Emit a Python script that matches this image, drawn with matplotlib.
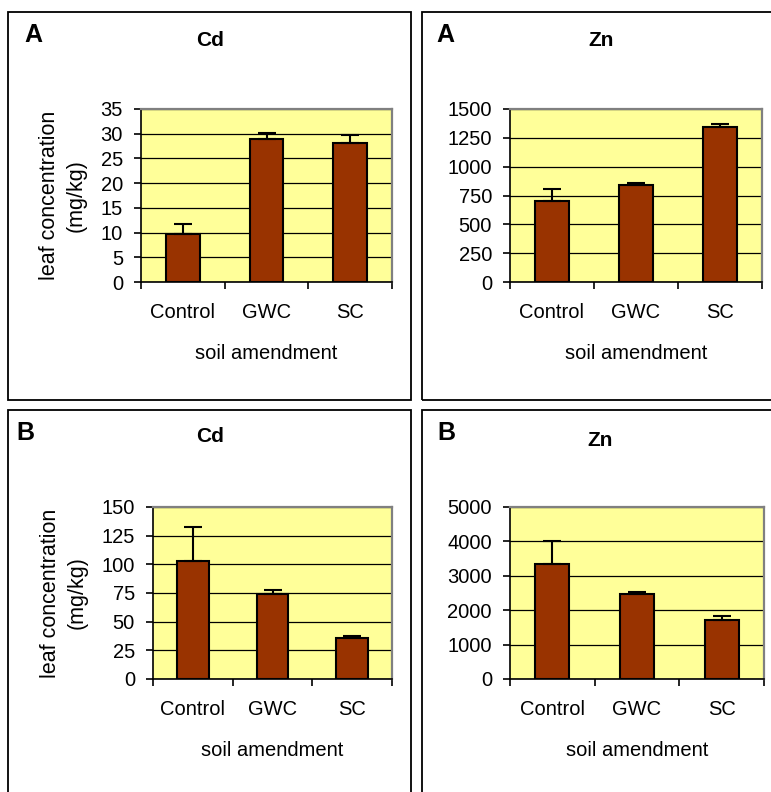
import matplotlib
matplotlib.use('Agg')
import matplotlib.pyplot as plt
from matplotlib.patches import Rectangle

plt.rcParams.update({'font.family': 'Liberation Sans', 'font.size': 14.5})

# ── data ──
categories = ['Control', 'GWC', 'SC']

cd_a_mean = [9.7, 28.9, 28.1]
cd_a_err = [2.0, 1.3, 1.6]
zn_a_mean = [705, 844, 1341]
zn_a_err = [100, 17, 32]
cd_b_mean = [103, 74, 36]
cd_b_err = [29.5, 3.3, 1.8]
zn_b_mean = [3330, 2470, 1715]
zn_b_err = [680, 50, 115]

cd_a_ticks = [0, 5, 10, 15, 20, 25, 30, 35]
zn_a_ticks = [0, 250, 500, 750, 1000, 1250, 1500]
cd_b_ticks = [0, 25, 50, 75, 100, 125, 150]
zn_b_ticks = [0, 1000, 2000, 3000, 4000, 5000]

BAR, PLOTBG, BORDER = '#993300', '#ffff99', '#808080'
W, H = 771, 792

fig = plt.figure(figsize=(W / 100, H / 100), dpi=100)


def rect(x0, y0, x1, y1):
    return [x0 / W, 1 - y1 / H, (x1 - x0) / W, (y1 - y0) / H]


def frame(x0, y0, x1, y1):
    fig.add_artist(Rectangle((x0 / W, 1 - y1 / H), (x1 - x0) / W, (y1 - y0) / H,
                             transform=fig.transFigure, fill=False,
                             edgecolor='black', lw=1.3))


def panel(box, means, errs, ticks, letter, letter_xy, title, title_xy, ylabel=False):
    ax = fig.add_axes(rect(*box))
    ax.set_facecolor(PLOTBG)
    x = range(len(categories))
    ax.bar(x, means, width=0.4, color=BAR, edgecolor='black', lw=1.5, zorder=3)
    ax.errorbar(x, means, yerr=[[0] * len(errs), errs], fmt='none',
                ecolor='black', elinewidth=1.5, capsize=6.5, capthick=1.5, zorder=4)
    ax.set_xlim(-0.5, 2.5)
    ax.set_ylim(ticks[0], ticks[-1])
    ax.set_yticks(ticks)
    ax.yaxis.grid(True, color='black', lw=0.9, zorder=1)
    ax.set_axisbelow(True)
    ax.set_xticks([-0.5, 0.5, 1.5, 2.5])
    ax.set_xticklabels([])
    ax.set_xticks(list(x), minor=True)
    ax.set_xticklabels(categories, minor=True)
    ax.tick_params(axis='x', which='major', length=5, width=1.2, direction='out')
    ax.tick_params(axis='x', which='minor', length=0, pad=15)
    ax.tick_params(axis='y', length=5, width=1.2, pad=8)
    for s in ('top', 'right'):
        ax.spines[s].set_color(BORDER)
        ax.spines[s].set_linewidth(1.6)
    for s in ('left', 'bottom'):
        ax.spines[s].set_linewidth(1.2)
    ax.set_xlabel('soil amendment', labelpad=16)
    if ylabel:
        ax.set_ylabel('leaf concentration\n(mg/kg)', fontsize=15.5, labelpad=10, linespacing=1.35)
    fig.text(letter_xy[0] / W, 1 - letter_xy[1] / H, letter, fontsize=18,
             fontweight='bold', ha='left', va='top')
    fig.text(title_xy[0] / W, 1 - title_xy[1] / H, title, fontsize=15,
             fontweight='bold', ha='center', va='center')
    return ax


# panel frames (right and bottom ones run off the page)
frame(8, 12, 411, 400)
frame(422, 12, 800, 400)
frame(8, 410, 411, 820)
frame(422, 410, 800, 820)

panel((141, 109, 392, 282), cd_a_mean, cd_a_err, cd_a_ticks, 'A', (24, 23), 'Cd', (210, 40), ylabel=True)
panel((510, 109, 762, 282), zn_a_mean, zn_a_err, zn_a_ticks, 'A', (436, 23), 'Zn', (601, 40))
panel((153, 507, 392, 679), cd_b_mean, cd_b_err, cd_b_ticks, 'B', (16, 421), 'Cd', (210, 437), ylabel=True)
panel((510, 507, 764, 679), zn_b_mean, zn_b_err, zn_b_ticks, 'B', (437, 421), 'Zn', (600, 440))

fig.savefig('out.png', dpi=100)
